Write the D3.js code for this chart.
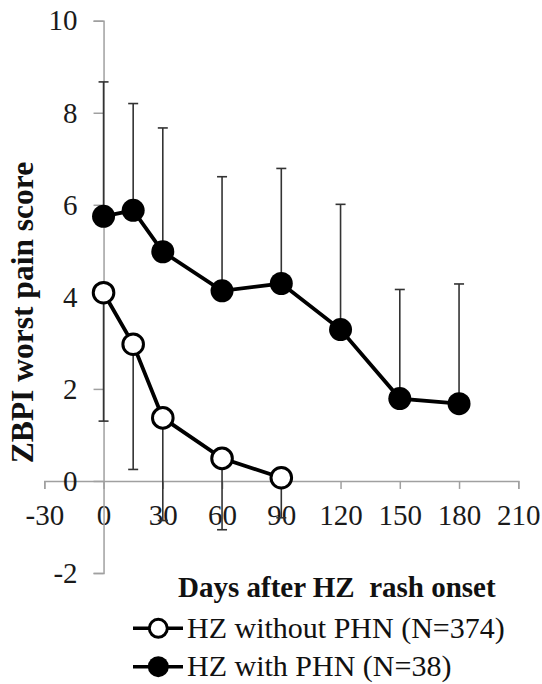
<!DOCTYPE html>
<html>
<head>
<meta charset="utf-8">
<script src="https://cdn.jsdelivr.net/npm/d3@7"></script>
<style>
  html, body { margin: 0; padding: 0; background: #fff; }
  svg { display: block; font-family: "Liberation Serif", "Times New Roman", serif; }
</style>
</head>
<body>
<svg id="chart" width="542" height="684"></svg>
<script>
// ---- data ----
const daysWithout = [0, 15, 30, 60, 90];
const meanWithout = [4.09, 2.97, 1.37, 0.49, 0.07];
const lowerWithout = [1.30, 0.25, -0.86, -1.06, -0.80];

const daysWith = [0, 15, 30, 60, 90, 120, 150, 180];
const meanWith = [5.75, 5.88, 4.98, 4.13, 4.29, 3.29, 1.79, 1.68];
const upperWith = [8.67, 8.20, 7.67, 6.61, 6.79, 6.01, 4.16, 4.28];

const xTicks = [-30, 0, 30, 60, 90, 120, 150, 180, 210];
const yTicks = [-2, 0, 2, 4, 6, 8, 10];

const seriesNames = ["HZ without PHN (N=374)", "HZ with PHN (N=38)"];
const xTitle = "Days after HZ\u00A0 rash onset";
const yTitle = "ZBPI worst pain score";

// ---- drawing ----
const svg = d3.select("#chart");
const x = d3.scaleLinear().domain([-30, 210]).range([44.3, 518.3]);
const y = d3.scaleLinear().domain([-2, 10]).range([573, 20.7]);

const axisColor = "#a0a0a0";
const fmt = d => String(d);

// X axis at y=0
const gx = svg.append("g")
  .attr("transform", `translate(0,${y(0)})`)
  .call(d3.axisBottom(x).tickValues(xTicks).tickFormat(fmt)
    .tickSize(8).tickSizeOuter(8).tickPadding(15));
// Y axis at x=0
const gy = svg.append("g")
  .attr("transform", `translate(${x(0)},0)`)
  .call(d3.axisLeft(y).tickValues(yTicks).tickFormat(fmt)
    .tickSize(10).tickSizeOuter(10).tickPadding(16));

[gx, gy].forEach(g => {
  g.select(".domain").attr("stroke", axisColor).attr("stroke-width", 1.5);
  g.selectAll(".tick line").attr("stroke", axisColor).attr("stroke-width", 1.5);
  g.selectAll(".tick text")
    .attr("fill", "#1a1a1a")
    .style("font-family", "'Liberation Serif', serif")
    .style("font-size", "29px");
});

// Error bars
const ebColor = "#333";
const capW = 5;
const eb = svg.append("g").attr("stroke", ebColor).attr("stroke-width", 1.6);

daysWith.forEach((d, i) => {
  eb.append("line").attr("x1", x(d)).attr("x2", x(d))
    .attr("y1", y(meanWith[i])).attr("y2", y(upperWith[i]));
  eb.append("line").attr("x1", x(d) - capW).attr("x2", x(d) + capW)
    .attr("y1", y(upperWith[i])).attr("y2", y(upperWith[i]));
});
daysWithout.forEach((d, i) => {
  eb.append("line").attr("x1", x(d)).attr("x2", x(d))
    .attr("y1", y(meanWithout[i])).attr("y2", y(lowerWithout[i]));
  eb.append("line").attr("x1", x(d) - capW).attr("x2", x(d) + capW)
    .attr("y1", y(lowerWithout[i])).attr("y2", y(lowerWithout[i]));
});

// Lines
const line = d3.line().x(d => x(d[0])).y(d => y(d[1]));
svg.append("path")
  .datum(d3.zip(daysWith, meanWith))
  .attr("d", line).attr("fill", "none").attr("stroke", "#000").attr("stroke-width", 3.8);
svg.append("path")
  .datum(d3.zip(daysWithout, meanWithout))
  .attr("d", line).attr("fill", "none").attr("stroke", "#000").attr("stroke-width", 3.8);

// Markers
svg.append("g").selectAll("circle")
  .data(d3.zip(daysWith, meanWith)).join("circle")
  .attr("cx", d => x(d[0])).attr("cy", d => y(d[1])).attr("r", 11.5)
  .attr("fill", "#000");
svg.append("g").selectAll("circle")
  .data(d3.zip(daysWithout, meanWithout)).join("circle")
  .attr("cx", d => x(d[0])).attr("cy", d => y(d[1])).attr("r", 10.3)
  .attr("fill", "#fff").attr("stroke", "#000").attr("stroke-width", 3);

// Axis titles
svg.append("text")
  .attr("x", 178).attr("y", 597)
  .attr("font-weight", "bold").attr("font-size", 29).attr("fill", "#111")
  .text(xTitle);
svg.append("text")
  .attr("transform", `translate(33,${312.5}) rotate(-90)`)
  .attr("text-anchor", "middle")
  .attr("font-weight", "bold").attr("font-size", 31.5).attr("fill", "#111")
  .text(yTitle);

// Legend
const legY = [628.3, 666.7];
const leg = svg.append("g");
seriesNames.forEach((name, i) => {
  const g = leg.append("g");
  g.append("line").attr("x1", 133).attr("x2", 183).attr("y1", legY[i]).attr("y2", legY[i])
    .attr("stroke", "#000").attr("stroke-width", 3.5);
  g.append("circle").attr("cx", 158.3).attr("cy", legY[i]).attr("r", i === 0 ? 9 : 10.5)
    .attr("fill", i === 0 ? "#fff" : "#000")
    .attr("stroke", "#000").attr("stroke-width", i === 0 ? 3 : 0);
  g.append("text").attr("x", 187).attr("y", legY[i] + 9.5)
    .attr("font-size", 30).attr("fill", "#111")
    .text(name);
});
</script>
</body>
</html>
